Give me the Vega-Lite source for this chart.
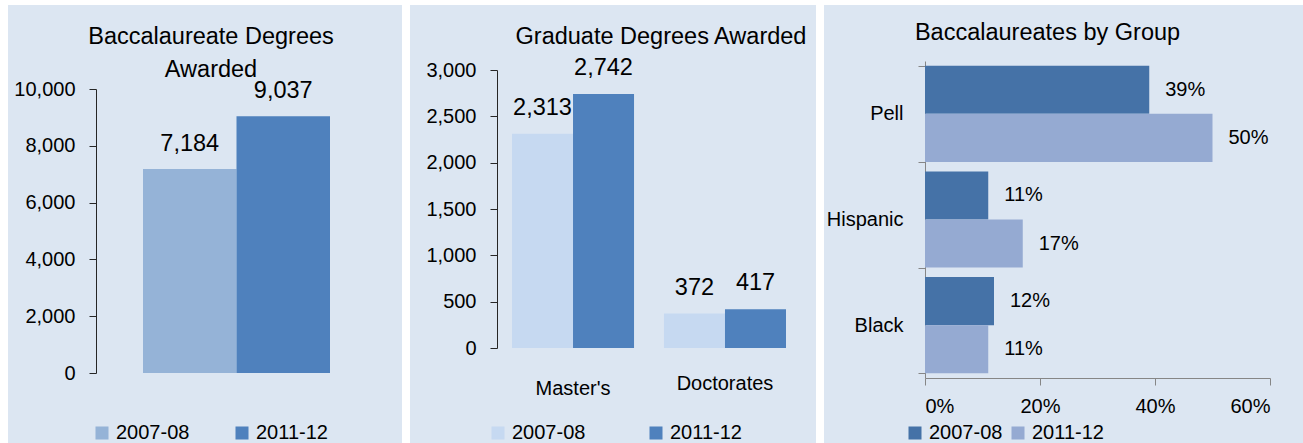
{
  "$schema": "https://vega.github.io/schema/vega-lite/v6.json",
  "background": "white",
  "padding": {"left": 8, "top": -5, "right": 0, "bottom": 0},
  "spacing": 8,
  "resolve": {"scale": {"color": "independent"}, "legend": {"color": "independent"}},
  "config": {
    "font": "Liberation Sans",
    "view": {"stroke": null, "fill": "#dce6f2"},
    "title": {"fontWeight": "normal", "fontSize": 23.5, "color": "#000000", "baseline": "alphabetic", "anchor": "middle", "frame": "group"},
    "axis": {"labelColor": "#000000", "labelFontSize": 20, "title": null, "grid": false},
    "legend": {"title": null, "orient": "none", "direction": "horizontal", "symbolType": "square", "symbolSize": 169, "symbolStrokeWidth": 0, "labelFontSize": 20, "labelColor": "#000000", "labelOffset": 4, "padding": 0, "labelLimit": 200}
  },
  "hconcat": [
    {
      "width": 394,
      "height": 438,
      "title": {"text": ["Baccalaureate Degrees", "Awarded"], "offset": -76, "lineHeight": 33, "dx": 6},
      "data": {"values": [
        {"year": "2007-08", "degrees": 7184},
        {"year": "2011-12", "degrees": 9037}
      ]},
      "encoding": {
        "x": {"field": "year", "type": "nominal", "axis": null, "scale": {"range": [135, 322], "paddingInner": 0, "paddingOuter": 0}},
        "y": {"field": "degrees", "type": "quantitative", "scale": {"domain": [0, 10000], "range": [368, 84], "nice": false},
          "axis": {"offset": -88, "values": [0, 2000, 4000, 6000, 8000, 10000], "format": ",d", "tickSize": 7, "labelPadding": 14, "domainColor": "#262626", "tickColor": "#262626"}}
      },
      "layer": [
        {"mark": {"type": "bar"},
          "encoding": {"color": {"field": "year", "type": "nominal", "scale": {"domain": ["2007-08", "2011-12"], "range": ["#95b3d7", "#4f81bd"]},
            "legend": {"legendX": 84, "legendY": 418, "columnPadding": 42}}}},
        {"mark": {"type": "text", "baseline": "alphabetic", "dy": -18, "fontSize": 23.5, "color": "#000000"},
          "encoding": {"text": {"field": "degrees", "type": "quantitative", "format": ",d"}}}
      ]
    },
    {
      "width": 406,
      "height": 438,
      "title": {"text": "Graduate Degrees Awarded", "offset": -43, "dx": 48},
      "data": {"values": [
        {"type": "Master's", "year": "2007-08", "degrees": 2313},
        {"type": "Master's", "year": "2011-12", "degrees": 2742},
        {"type": "Doctorates", "year": "2007-08", "degrees": 372},
        {"type": "Doctorates", "year": "2011-12", "degrees": 417}
      ]},
      "encoding": {
        "x": {"field": "type", "type": "nominal", "sort": null, "scale": {"range": [102, 376], "paddingInner": 0.197, "paddingOuter": 0},
          "axis": {"orient": "bottom", "offset": -95, "domain": false, "ticks": false, "tickSize": 0, "labelAngle": 0, "labelBaseline": "top",
            "labelPadding": {"condition": {"test": "datum.value === \"Master's\"", "value": 30}, "value": 25}}},
        "xOffset": {"field": "year", "type": "nominal", "scale": {"domain": ["2007-08", "2011-12"], "paddingInner": 0, "paddingOuter": 0}},
        "y": {"field": "degrees", "type": "quantitative", "scale": {"domain": [0, 3000], "range": [343, 65], "nice": false},
          "axis": {"offset": -87, "values": [0, 500, 1000, 1500, 2000, 2500, 3000], "format": ",d", "tickSize": 7, "labelPadding": 14, "domainColor": "#262626", "tickColor": "#262626"}}
      },
      "layer": [
        {"mark": {"type": "bar"},
          "encoding": {"color": {"field": "year", "type": "nominal", "scale": {"domain": ["2007-08", "2011-12"], "range": ["#c6d9f1", "#4f81bd"]},
            "legend": {"legendX": 78, "legendY": 418, "columnPadding": 60}}}},
        {"mark": {"type": "text", "baseline": "alphabetic", "dy": -19, "fontSize": 23.5, "color": "#000000"},
          "encoding": {"text": {"field": "degrees", "type": "quantitative", "format": ",d"}}}
      ]
    },
    {
      "width": 479,
      "height": 438,
      "title": {"text": "Baccalaureates by Group", "offset": -49, "dx": -16},
      "data": {"values": [
        {"group": "Pell", "year": "2007-08", "share": 0.39},
        {"group": "Pell", "year": "2011-12", "share": 0.50},
        {"group": "Hispanic", "year": "2007-08", "share": 0.11},
        {"group": "Hispanic", "year": "2011-12", "share": 0.17},
        {"group": "Black", "year": "2007-08", "share": 0.12},
        {"group": "Black", "year": "2011-12", "share": 0.11}
      ]},
      "encoding": {
        "y": {"field": "group", "type": "nominal", "sort": null, "scale": {"range": [56, 373], "paddingInner": 0.09, "paddingOuter": 0.045},
          "axis": {"offset": -101, "tickBand": "extent", "tickSize": 7, "labelPadding": 15, "domainColor": "#868686", "tickColor": "#868686"}},
        "yOffset": {"field": "year", "type": "nominal", "scale": {"domain": ["2007-08", "2011-12"], "paddingInner": 0, "paddingOuter": 0}},
        "x": {"field": "share", "type": "quantitative", "scale": {"domain": [0, 0.6], "range": [101, 446], "nice": false},
          "axis": {"orient": "bottom", "offset": -65, "values": [0, 0.2, 0.4, 0.6], "format": ".0%", "tickSize": 7, "labelPadding": 11, "domainColor": "#868686", "tickColor": "#868686"}}
      },
      "layer": [
        {"mark": {"type": "bar"},
          "encoding": {"color": {"field": "year", "type": "nominal", "scale": {"domain": ["2007-08", "2011-12"], "range": ["#4572a7", "#95aad2"]},
            "legend": {"legendX": 81, "legendY": 418, "columnPadding": 5}}}},
        {"mark": {"type": "text", "align": "left", "baseline": "middle", "dx": 16, "fontSize": 20, "color": "#000000"},
          "encoding": {"text": {"field": "share", "type": "quantitative", "format": ".0%"}}}
      ]
    }
  ]
}
